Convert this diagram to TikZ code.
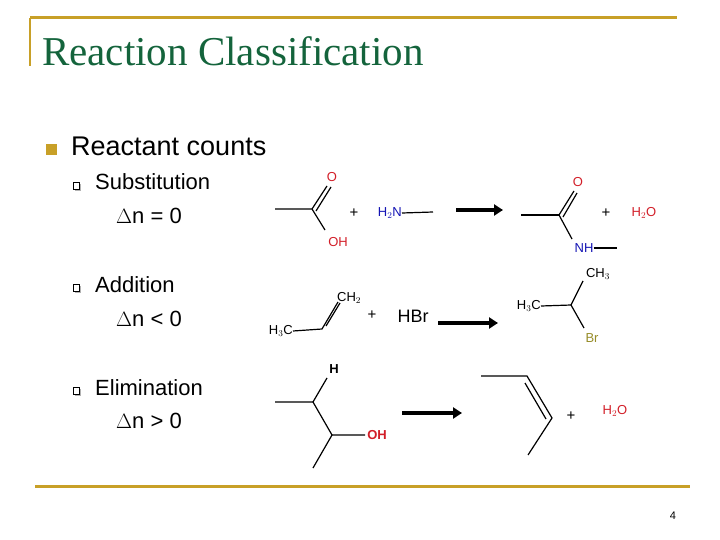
\documentclass[tikz,border=0pt]{standalone}
\usepackage{fontspec}
\setmainfont{Liberation Sans}
\newfontfamily\serifttl{Liberation Serif}
\usetikzlibrary{arrows.meta}
\definecolor{gold}{RGB}{200,160,40}
\definecolor{ttl}{RGB}{20,100,60}
\definecolor{ored}{RGB}{210,30,40}
\definecolor{nblue}{RGB}{20,20,180}
\definecolor{brol}{RGB}{150,140,40}
\begin{document}
\begin{tikzpicture}[x=1pt,y=-1pt,
  bond/.style={line width=1.2pt},
  rarrow/.style={line width=3.2pt,-{Triangle[length=9pt,width=11pt]}},
  lab/.style={inner sep=0pt,font=\fontsize{13}{13}\selectfont},
  body/.style={inner sep=0pt,anchor=west,font=\fontsize{22}{24}\selectfont}]
\useasboundingbox (0,0) rectangle (720,540);
% frame lines
\draw[gold,line width=3pt] (30,18) -- (677,18);
\draw[gold,line width=2pt] (30,18) -- (30,66);
\draw[gold,line width=3pt] (35,486) -- (690,486);
\node[anchor=west,inner sep=0pt,text=ttl,font=\serifttl\fontsize{41}{44}\selectfont] (title) at (42,51) {Reaction Classification};
\node (pg) at (673,516) {\fontsize{11}{11}\selectfont 4};
% bullets
\fill[gold] (46,144) rectangle (57,155);
\node[body,font=\fontsize{27}{28}\selectfont] (rc) at (71,146) {Reactant counts};
\foreach \yy/\nm in {186/b1,288/b2,391/b3}{
  \fill[gray!60] (75,\yy-2) rectangle (81,\yy+5);
  \draw[black,fill=white,line width=0.5pt] (73,\yy-4) rectangle (79,\yy+3);
}
\node[body] (s1) at (95,182) {Substitution};
\node[body] (s2) at (116,216) {$\Delta$n = 0};
\node[body] (a1) at (95,285) {Addition};
\node[body] (a2) at (116,319) {$\Delta$n < 0};
\node[body] (e1) at (95,388) {Elimination};
\node[body] (e2) at (116,421) {$\Delta$n > 0};
% reaction 1
\coordinate (c1) at (312,209);
\coordinate (m1) at (275,209);
\node[lab,text=ored] (o1) at (332,177) {O};
\node[lab,text=ored] (oh1) at (338,242) {OH};
\draw[bond] (m1) -- (c1) -- (325,230);
\draw[bond] (c1) -- (327,186);
\draw[bond] (316,211) -- (331,187);
\node[lab,font=\fontsize{15}{15}\selectfont] (p1) at (354,213) {+};
\node[lab,text=nblue,anchor=east] (n1) at (402,213) {H$_2$N};
\coordinate (n1e) at (433,212);
\draw[bond] (n1.east) -- (n1e);
\coordinate (r1s) at (456,210); \coordinate (r1e) at (503,210);
\draw[rarrow] (r1s) -- (r1e);
\coordinate (c2) at (559,215);
\draw[bond] (521,215) -- (c2);
\draw[bond] (c2) -- (574,191);
\draw[bond] (563,217) -- (577,193);
\node[lab,text=ored] (o2) at (578,182) {O};
\node[lab,text=nblue] (nh) at (584,248) {NH};
\draw[bond] (c2) -- (572,239);
\draw[bond] (nh.east) -- (617,248);
\node[lab,font=\fontsize{15}{15}\selectfont] (p2) at (606,213) {+};
\node[lab,text=ored] (w1) at (644,213) {H$_2$O};
% reaction 2
\node[lab,anchor=east] (h3c) at (293,331) {H$_3$C};
\coordinate (c3) at (322,329);
\draw[bond] (h3c.east) -- (c3) -- (338,302);
\draw[bond] (326,326) -- (340,303);
\node[lab,anchor=west] (ch2) at (337,298) {CH$_2$};
\node[lab,font=\fontsize{15}{15}\selectfont] (p3) at (372,315) {+};
\node[lab,font=\fontsize{18}{18}\selectfont] (hbr) at (413,316) {HBr};
\coordinate (r2s) at (438,323); \coordinate (r2e) at (498,323);
\draw[rarrow] (r2s) -- (r2e);
\node[lab,anchor=east] (h3c2) at (541,306) {H$_3$C};
\coordinate (c4) at (571,305);
\draw[bond] (h3c2.east) -- (c4) -- (583,281);
\draw[bond] (c4) -- (584,328);
\node[lab] (ch3) at (598,274) {CH$_3$};
\node[lab,text=brol] (br) at (592,338) {Br};
% reaction 3
\coordinate (d1) at (313,402);
\coordinate (d2) at (332,435);
\draw[bond] (275,402) -- (d1) -- (327,378);
\node[lab,font=\bfseries\fontsize{13}{13}\selectfont] (h) at (334,369) {H};
\draw[bond] (d1) -- (d2) -- (365,435);
\draw[bond] (d2) -- (313,468);
\node[lab,text=ored,font=\bfseries\fontsize{13}{13}\selectfont] (oh3) at (377,435) {OH};
\coordinate (r3s) at (402,413); \coordinate (r3e) at (462,413);
\draw[rarrow] (r3s) -- (r3e);
\coordinate (f1) at (527,376); \coordinate (f2) at (552,418);
\draw[bond] (481,376) -- (f1) -- (f2) -- (528,455);
\draw[bond] (525,383) -- (546,419);
\node[lab,font=\fontsize{15}{15}\selectfont] (p4) at (571,416) {+};
\node[lab,text=ored] (w2) at (615,411) {H$_2$O};
\end{tikzpicture}
\end{document}
